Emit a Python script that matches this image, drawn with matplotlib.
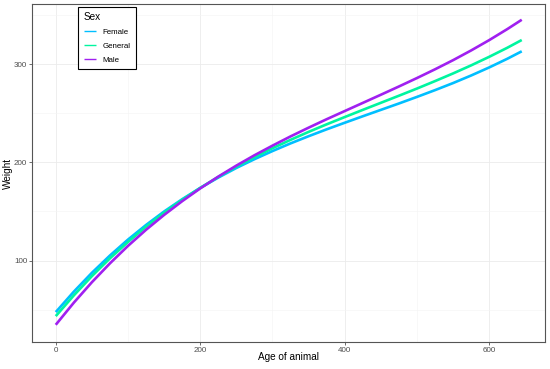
import matplotlib
matplotlib.use("Agg")
import matplotlib.pyplot as plt
from matplotlib.ticker import MultipleLocator

plt.rcParams["font.family"] = ["Liberation Sans", "DejaVu Sans"]

# age of animal (every 25 units)
age = [0, 25, 50, 75, 100, 125, 150, 175, 200, 225, 250, 275, 300, 325,
       350, 375, 400, 425, 450, 475, 500, 525, 550, 575, 600, 625, 645]

weight_female = [47.6, 68.4, 87.6, 105.2, 121.4, 136.3, 150.0, 162.5, 174.0,
                 184.5, 194.3, 203.2, 211.5, 219.3, 226.6, 233.6, 240.3,
                 246.9, 253.4, 259.9, 266.6, 273.5, 280.7, 288.4, 296.6,
                 305.4, 313.0]
weight_general = [43.5, 64.6, 84.2, 102.3, 119.0, 134.5, 148.7, 161.9, 174.0,
                  185.2, 195.7, 205.3, 214.4, 222.9, 231.0, 238.7, 246.1,
                  253.4, 260.6, 267.8, 275.1, 282.7, 290.5, 298.7, 307.4,
                  316.6, 324.5]
weight_male = [34.7, 57.2, 78.0, 97.2, 115.0, 131.4, 146.5, 160.5, 173.5,
               185.5, 196.7, 207.2, 217.0, 226.4, 235.3, 243.9, 252.2,
               260.5, 268.8, 277.2, 285.8, 294.7, 304.0, 313.9, 324.4,
               335.6, 345.1]

series = [("Female", weight_female, "#00BFFF"),
          ("General", weight_general, "#00F5A0"),
          ("Male", weight_male, "#A020F0")]

fig = plt.figure(figsize=(5.5, 3.69), dpi=100)
ax = fig.add_axes([0.059, 0.074, 0.932, 0.914])

for name, vals, col in series:
    ax.plot(age, vals, color=col, lw=1.9, label=name,
            solid_joinstyle="round", solid_capstyle="butt")

ax.set_xlim(-32.25, 677.25)
ax.set_ylim(17.5, 360.7)
ax.xaxis.set_major_locator(MultipleLocator(200))
ax.xaxis.set_minor_locator(MultipleLocator(100))
ax.yaxis.set_major_locator(MultipleLocator(100))
ax.yaxis.set_minor_locator(MultipleLocator(50))
ax.grid(which="major", color="#EBEBEB", lw=0.6)
ax.grid(which="minor", color="#F4F4F4", lw=0.4)
ax.set_axisbelow(True)

for s in ax.spines.values():
    s.set_color("#555555")
    s.set_linewidth(0.8)

ax.tick_params(which="major", length=2.2, width=0.6, color="#555555",
               labelsize=5.8, labelcolor="#4D4D4D", pad=1.5)
ax.tick_params(which="minor", length=0)

ax.set_xlabel("Age of animal", fontsize=7.2)
ax.set_ylabel("Weight", fontsize=7.2)
ax.xaxis.set_label_coords(0.5, -0.045)
ax.yaxis.set_label_coords(-0.047, 0.5)
ax.xaxis.label.set_va("center")
ax.yaxis.label.set_va("center")

leg = ax.legend(title="Sex", loc="upper left", bbox_to_anchor=(0.142, 0.982),
                bbox_transform=fig.transFigure, fontsize=5.7,
                title_fontsize=7.2, fancybox=False, framealpha=1,
                handlelength=1.5, handletextpad=0.9, borderpad=0.7,
                labelspacing=0.8, borderaxespad=0)
leg._legend_box.align = "left"
leg.get_frame().set_edgecolor("black")
leg.get_frame().set_linewidth(0.8)
for line in leg.get_lines():
    line.set_linewidth(1.0)

fig.savefig("out.png", dpi=100)
